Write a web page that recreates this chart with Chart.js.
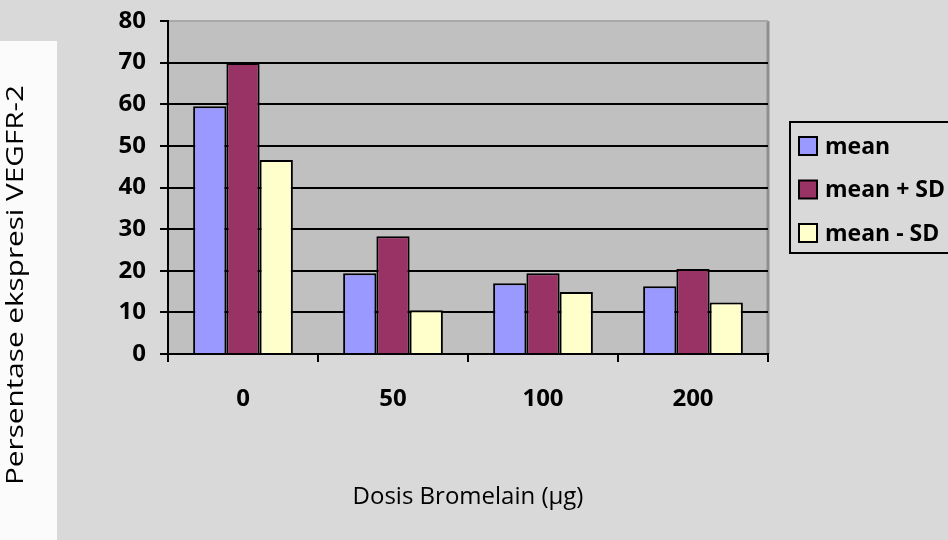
<!DOCTYPE html>
<html>
<head>
<meta charset="utf-8">
<title>Persentase ekspresi VEGFR-2</title>
<script src="https://cdn.jsdelivr.net/npm/chart.js@4.4.1/dist/chart.umd.min.js"></script>
<style>
  html, body { margin: 0; padding: 0; }
  body { width: 948px; height: 540px; background: #d9d9d9; position: relative; overflow: hidden; }
  .paper { position: absolute; left: 0; top: 41px; width: 57px; height: 499px; background: #fbfbfb; }
  .wrap { position: absolute; left: 0; top: 0; width: 948px; height: 540px; }
</style>
</head>
<body>
<div class="paper"></div>
<div class="wrap"><canvas id="vegfrChart"></canvas></div>
<script>
// data
const categories = ['0', '50', '100', '200'];
const meanValues = [59.5, 19.4, 17.0, 16.3];
const meanPlusSd = [69.9, 28.3, 19.4, 20.4];
const meanMinusSd = [46.6, 10.5, 14.9, 12.4];
const yTicks = [0, 10, 20, 30, 40, 50, 60, 70, 80];

const seriesNames = ['mean', 'mean + SD', 'mean - SD'];
const seriesColors = ['#9999ff', '#993366', '#ffffcc'];

const FONT = "'Open Sans', 'DejaVu Sans', sans-serif";

// gray plot area like the old Excel chart
const plotBackground = {
    id: 'plotBackground',
    beforeDraw(chart) {
        const { ctx, chartArea: a } = chart;
        ctx.save();
        ctx.fillStyle = '#c0c0c0';
        ctx.fillRect(a.left, a.top, a.right - a.left, a.bottom - a.top);
        ctx.strokeStyle = '#8f8f8f';
        ctx.lineWidth = 3;
        ctx.beginPath();
        ctx.moveTo(a.right, a.top);
        ctx.lineTo(a.right, a.bottom);
        ctx.stroke();
        ctx.restore();
    }
};

// boxed legend on the right, cut off by the edge like in the picture
const boxedLegend = {
    id: 'boxedLegend',
    afterDraw(chart) {
        const { ctx } = chart;
        ctx.save();
        ctx.strokeStyle = '#000';
        ctx.lineWidth = 2;
        ctx.strokeRect(790, 122, 200, 131);
        ctx.font = 'bold 23px ' + FONT;
        ctx.textBaseline = 'middle';
        ctx.textAlign = 'left';
        chart.data.datasets.forEach((ds, i) => {
            const cy = 146 + i * 43.5;
            ctx.fillStyle = ds.backgroundColor;
            ctx.fillRect(799, cy - 9, 18, 18);
            ctx.lineWidth = 2;
            ctx.strokeRect(799, cy - 9, 18, 18);
            ctx.fillStyle = '#000';
            ctx.fillText(ds.label, 825, cy + 1);
        });
        ctx.restore();
    }
};

// y title sits lower than the axis centre, so it is drawn by hand
const yTitle = {
    id: 'yTitle',
    afterDraw(chart) {
        const { ctx } = chart;
        const text = 'Persentase ekspresi VEGFR-2';
        ctx.save();
        ctx.font = '23px ' + FONT;
        const stretch = 400 / ctx.measureText(text).width;
        ctx.translate(16, 285);
        ctx.rotate(-Math.PI / 2);
        ctx.scale(stretch, 1);
        ctx.fillStyle = '#000';
        ctx.textAlign = 'center';
        ctx.textBaseline = 'middle';
        ctx.fillText(text, 0, 0);
        ctx.restore();
    }
};

const ctx = document.getElementById('vegfrChart').getContext('2d');
new Chart(ctx, {
    type: 'bar',
    data: {
        labels: categories,
        datasets: [meanValues, meanPlusSd, meanMinusSd].map((vals, i) => ({
            label: seriesNames[i],
            data: vals,
            backgroundColor: seriesColors[i],
            borderColor: '#000',
            borderWidth: 2,
            categoryPercentage: 0.665,
            barPercentage: 1
        }))
    },
    options: {
        responsive: true,
        maintainAspectRatio: false,
        animation: false,
        layout: { padding: { top: 21, right: 180, bottom: 0, left: 0 } },
        plugins: {
            legend: { display: false },
            tooltip: { enabled: false }
        },
        scales: {
            x: {
                grid: { drawOnChartArea: false, color: '#000', lineWidth: 2, tickLength: 8, offset: true },
                border: { color: '#000', width: 2 },
                ticks: { color: '#000', padding: 23, font: { family: FONT, size: 24, weight: 'bold' } },
                title: {
                    display: true,
                    text: 'Dosis Bromelain (µg)',
                    color: '#000',
                    font: { family: FONT, size: 24 },
                    padding: { top: 0, bottom: 28 }
                },
                afterFit(scale) { scale.height = 186; }
            },
            y: {
                min: 0,
                max: 80,
                afterBuildTicks(scale) { scale.ticks = yTicks.map(v => ({ value: v })); },
                grid: {
                    color: c => (c.tick && c.tick.value === 80 ? '#a8a8a8' : '#000'),
                    tickColor: '#000',
                    lineWidth: 2,
                    tickLength: 8
                },
                border: { color: '#000', width: 2 },
                ticks: { color: '#000', padding: 14, font: { family: FONT, size: 24, weight: 'bold' } },
                afterFit(scale) {
                    scale.width = 168;
                    scale.paddingTop = 0;
                }
            }
        }
    },
    plugins: [plotBackground, boxedLegend, yTitle]
});
</script>
</body>
</html>
